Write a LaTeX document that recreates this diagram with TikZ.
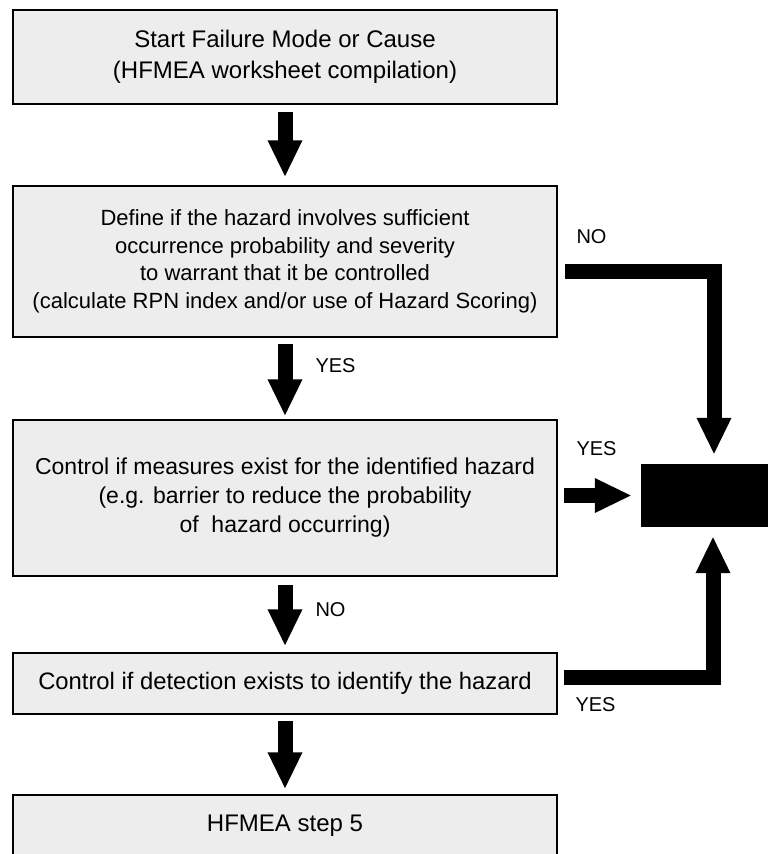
\documentclass[tikz,border=0pt]{standalone}
\usepackage{fontspec}
\setmainfont{Liberation Sans}
\usetikzlibrary{arrows.meta}
\tikzset{
  stepbox/.style={draw,line width=1.5pt,fill=black!7,minimum width=544pt,inner sep=0pt,align=center},
  bigarrow/.style={line width=15pt,line join=miter,-{Triangle[width=32pt,length=37pt]}},
  answer/.style={anchor=west,font=\fontsize{20}{24}\selectfont}
}
\begin{document}
\begin{tikzpicture}[x=1pt,y=-1pt]
\useasboundingbox (0,0) rectangle (771,854);

\node[stepbox,minimum height=94pt,font=\fontsize{24}{31}\selectfont] (start) at (285,57) {Start Failure Mode or Cause\\(HFMEA worksheet compilation)};
\node[stepbox,minimum height=151pt,font=\fontsize{22}{27.5}\selectfont] (define) at (285,261.5) {Define if the hazard involves sufficient\\occurrence probability and severity\\to warrant that it be controlled\\(calculate RPN index and/or use of Hazard Scoring)};
\node[stepbox,minimum height=156pt,font=\fontsize{23}{29}\selectfont] (measures) at (285,498) {Control if measures exist for the identified hazard\\(e.g. barrier to reduce the probability\\of\ \ hazard occurring)};
\node[stepbox,minimum height=61pt,font=\fontsize{23.8}{29}\selectfont] (detect) at (285,683.5) {Control if detection exists to identify the hazard};
\node[stepbox,minimum height=61pt,font=\fontsize{24}{29}\selectfont] (step5) at (285,825.5) {HFMEA step 5};

\node[fill=black,minimum width=127pt,minimum height=63pt,inner sep=0pt] (outbox) at (704.5,495.5) {};

\draw[bigarrow,shorten <=7pt,shorten >=8pt] (start) -- (define);
\draw[bigarrow,shorten <=6pt,shorten >=3pt] (define) -- (measures);
\draw[bigarrow,shorten <=8pt,shorten >=6pt] (measures) -- (detect);
\draw[bigarrow,shorten <=6pt,shorten >=5pt] (detect) -- (step5);

\draw[bigarrow,shorten <=7pt,shorten >=9pt] ([yshift=-9.5pt]define.east) -| ([xshift=9.5pt]outbox.north);
\draw[bigarrow,shorten <=6pt,shorten >=9pt] (measures.east |- outbox.west) -- (outbox.west);
\draw[bigarrow,shorten <=6pt,shorten >=9pt] ([yshift=6.5pt]detect.east) -| ([xshift=8.5pt]outbox.south);

\node[answer] (yes1) at (312,366) {YES};
\node[answer] (no2) at (312,610) {NO};
\node[answer] (no1) at (573,237) {NO};
\node[answer] (yes2) at (573,449) {YES};
\node[answer] (yes3) at (572,705) {YES};
\end{tikzpicture}
\end{document}
